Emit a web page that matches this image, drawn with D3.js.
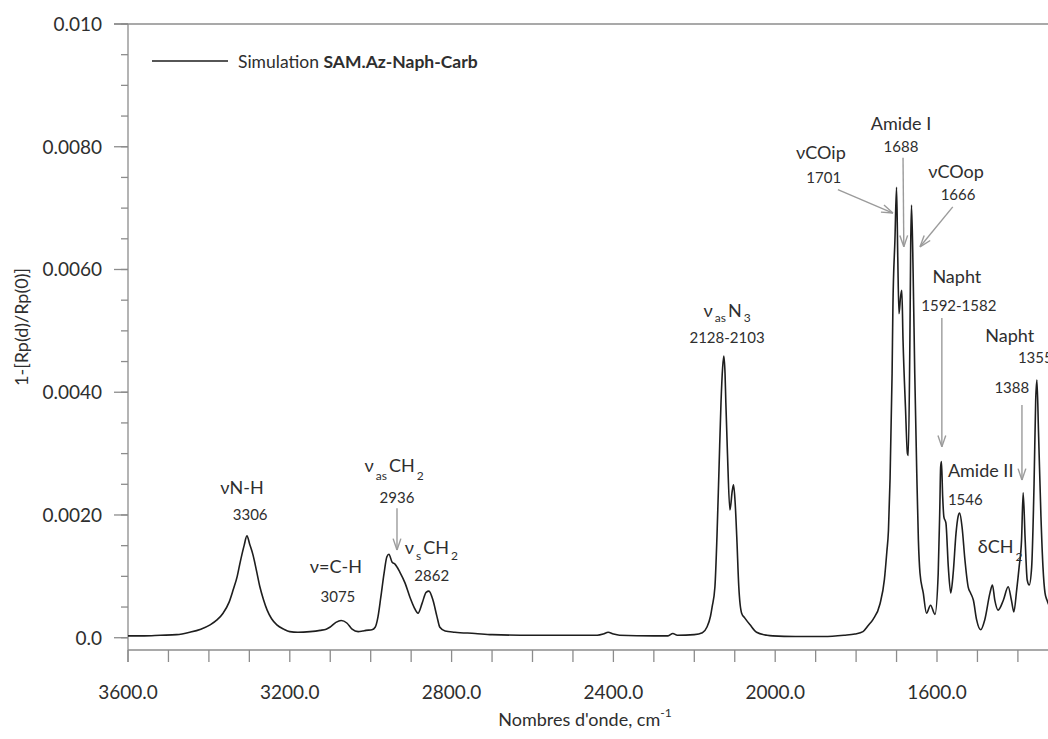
<!DOCTYPE html>
<html><head><meta charset="utf-8">
<script src="https://cdn.jsdelivr.net/npm/d3@7"></script>
<style>body{margin:0;background:#fff} svg{display:block}</style>
</head><body><svg id="c" width="1048" height="739"></svg>
<script>
// ---- data ----
const wavenumbers = [3600,3560,3520,3480,3447,3420,3397,3380,3365,3350,3340,3330,3323,3313,3306,3299,3291,3282,3274,3265,3256,3245,3232,3215,3200,3180,3150,3125,3110,3101,3086,3073,3059,3046,3031,3020,3012,2997,2989,2982,2975,2967,2960,2955,2947,2940,2928,2915,2903,2893,2883,2873,2863,2856,2846,2836,2829,2816,2792,2742,2700,2600,2500,2440,2425,2413,2400,2385,2300,2265,2253,2242,2200,2180,2169,2160,2156,2149,2144,2139,2134,2130,2127,2124,2122,2118,2112,2106,2103,2099,2095,2090,2083,2075,2062,2046,2020,2006,1950,1880,1830,1803,1783,1770,1758,1741,1730,1724,1720,1716,1711,1709,1704,1700,1697,1694,1690,1687,1684,1678,1673,1671,1667,1665,1663,1659,1655,1650,1646,1642,1634,1626,1616,1605,1597,1593,1591,1589,1586,1583,1578,1572,1566,1560,1553,1548,1544,1538,1531,1523,1517,1510,1502,1492,1482,1469,1463,1457,1449,1436,1424,1416,1410,1403,1397,1391,1387,1382,1377,1372,1366,1360,1356,1353,1349,1343,1338,1333,1328,1320,1300];
const signal = [0.00003,0.00003,0.00004,0.00005,0.00009,0.00014,0.00021,0.00029,0.00040,0.00058,0.00078,0.00100,0.00122,0.00150,0.00166,0.00152,0.00135,0.00108,0.00083,0.00062,0.00045,0.00031,0.00021,0.00014,0.00010,0.00009,0.00010,0.00012,0.00014,0.00017,0.00025,0.00028,0.00024,0.00014,0.00010,0.00011,0.00012,0.00013,0.00017,0.00034,0.00066,0.00105,0.00132,0.00136,0.00123,0.00120,0.00107,0.00089,0.00066,0.00050,0.00040,0.00056,0.00074,0.00076,0.00061,0.00034,0.00017,0.00011,0.00009,0.00007,0.00005,0.00004,0.00004,0.00004,0.00006,0.00009,0.00006,0.00004,0.00003,0.00003,0.00007,0.00004,0.00005,0.00008,0.00017,0.00035,0.00050,0.00083,0.00164,0.00273,0.00383,0.00440,0.00459,0.00430,0.00383,0.00300,0.00208,0.00240,0.00249,0.00220,0.00164,0.00083,0.00040,0.00032,0.00021,0.00009,0.00004,0.00003,0.00002,0.00002,0.00004,0.00006,0.00010,0.00020,0.00030,0.00055,0.00095,0.00140,0.00175,0.00260,0.00431,0.00539,0.00648,0.00734,0.00620,0.00528,0.00556,0.00566,0.00485,0.00376,0.00300,0.00297,0.00485,0.00640,0.00705,0.00594,0.00431,0.00268,0.00159,0.00105,0.00073,0.00040,0.00053,0.00038,0.00105,0.00213,0.00278,0.00287,0.00230,0.00197,0.00187,0.00115,0.00073,0.00105,0.00170,0.00197,0.00203,0.00180,0.00127,0.00083,0.00073,0.00061,0.00029,0.00013,0.00029,0.00073,0.00086,0.00061,0.00045,0.00061,0.00083,0.00061,0.00042,0.00078,0.00115,0.00159,0.00236,0.00159,0.00094,0.00086,0.00115,0.00252,0.00387,0.00420,0.00334,0.00197,0.00115,0.00073,0.00061,0.00050,0.00045];

const xMinorTicks = d3.range(3600, 1000, -100);
const xLabelTicks = [3600, 3200, 2800, 2400, 2000, 1600];
const yMajorTicks = [0, 0.002, 0.004, 0.006, 0.008, 0.010];
const yTickLabels = ["0.0", "0.0020", "0.0040", "0.0060", "0.0080", "0.010"];
const yMinorTicks = d3.range(0, 0.01001, 0.0005);
const seriesName = ["Simulation ", "SAM.Az-Naph-Carb"];

// annotation texts: parts with optional subscript flag
const annotations = [
  {parts:[["νN-H"]], w:3318, v:0.00234, cls:"lab"},
  {parts:[["3306"]], w:3298, v:0.00192, cls:"num"},
  {parts:[["ν=C-H"]], w:3086, v:0.00106, cls:"lab"},
  {parts:[["3075"]], w:3081, v:0.00058, cls:"num"},
  {parts:[["ν"],["as",1],["CH"],["2",1]], w:2942, v:0.00270, cls:"lab", sd:8},
  {parts:[["2936"]], w:2935, v:0.00220, cls:"num"},
  {parts:[["ν"],["s",1],["CH"],["2",1]], w:2850, v:0.00137, cls:"lab", sd:6},
  {parts:[["2862"]], w:2849, v:0.00093, cls:"num"},
  {parts:[["ν"],["as",1],["N"],["3",1]], w:2119, v:0.00522, cls:"lab", sd:5},
  {parts:[["2128-2103"]], w:2119, v:0.00480, cls:"num"},
  {parts:[["νCOip"]], w:1887, v:0.00780, cls:"lab"},
  {parts:[["1701"]], w:1880, v:0.00741, cls:"num"},
  {parts:[["Amide I"]], w:1689, v:0.00827, cls:"lab"},
  {parts:[["1688"]], w:1689, v:0.00792, cls:"num"},
  {parts:[["νCOop"]], w:1553, v:0.00749, cls:"lab"},
  {parts:[["1666"]], w:1548, v:0.00713, cls:"num"},
  {parts:[["Napht"]], w:1551, v:0.00578, cls:"lab"},
  {parts:[["1592-1582"]], w:1546, v:0.00532, cls:"num"},
  {parts:[["Napht"]], w:1420, v:0.00482, cls:"lab"},
  {parts:[["1355"]], w:1400, v:0.00448, cls:"num", anchor:"start"},
  {parts:[["1388"]], w:1415, v:0.00399, cls:"num"},
  {parts:[["Amide II"]], w:1573, v:0.00262, cls:"lab", anchor:"start"},
  {parts:[["1546"]], w:1573, v:0.00216, cls:"num", anchor:"start"},
  {parts:[["δCH"],["2",1]], w:1499, v:0.00138, cls:"lab", anchor:"start", sd:8}
];
const arrows = [
  {w1:2935, v1:0.00211, w2:2935, v2:0.00143},
  {w1:1845, v1:0.00730, w2:1709, v2:0.00692},
  {w1:1684, v1:0.00782, w2:1682, v2:0.00637},
  {w1:1561, v1:0.00702, w2:1642, v2:0.00637},
  {w1:1588, v1:0.00521, w2:1588, v2:0.00311},
  {w1:1390, v1:0.00379, w2:1390, v2:0.00257}
];

// ---- chart ----
const svg = d3.select("#c");
svg.append("rect").attr("width",1048).attr("height",739).attr("fill","#fff");
const FONT = "Lato, 'Open Sans', 'DejaVu Sans', sans-serif";
const x = d3.scaleLinear().domain([3600, 1000]).range([128, 1179.7]);
const y = d3.scaleLinear().domain([-0.0002, 0.010]).range([650, 24]);
const axisColor = "#8c8c8c";
const textColor = "#2e2e2e";

// top frame line
svg.append("line").attr("x1", x(3600)-14).attr("x2", 1048)
  .attr("y1", y(0.010)).attr("y2", y(0.010)).attr("stroke", axisColor).attr("stroke-width", 1.3);

// y axis
const gy = svg.append("g");
gy.append("line").attr("x1", x(3600)).attr("x2", x(3600)).attr("y1", y(0.010)).attr("y2", y(-0.0002)+12)
  .attr("stroke", axisColor).attr("stroke-width", 1.3);
gy.selectAll(".ymin").data(yMinorTicks).join("line")
  .attr("x1", x(3600)-7).attr("x2", x(3600)).attr("y1", d=>y(d)).attr("y2", d=>y(d))
  .attr("stroke", axisColor).attr("stroke-width", 1.3);
gy.selectAll(".ymaj").data(yMajorTicks).join("line")
  .attr("x1", x(3600)-14).attr("x2", x(3600)).attr("y1", d=>y(d)).attr("y2", d=>y(d))
  .attr("stroke", axisColor).attr("stroke-width", 1.3);
gy.selectAll(".ylab").data(yMajorTicks).join("text")
  .attr("x", x(3600)-26).attr("y", d=>y(d)+7).attr("text-anchor","end")
  .attr("font-family", FONT).attr("font-size", 19).attr("fill", textColor)
  .text((d,i)=>yTickLabels[i]);

// x axis
const gx = svg.append("g");
gx.append("line").attr("x1", x(3600)).attr("x2", 1048).attr("y1", y(-0.0002)).attr("y2", y(-0.0002))
  .attr("stroke", axisColor).attr("stroke-width", 1.3);
gx.selectAll(".xt").data(xMinorTicks).join("line")
  .attr("x1", d=>x(d)).attr("x2", d=>x(d)).attr("y1", y(-0.0002)).attr("y2", y(-0.0002)+12)
  .attr("stroke", axisColor).attr("stroke-width", 1.3);
gx.selectAll(".xl").data(xLabelTicks).join("text")
  .attr("x", d=>x(d)).attr("y", 699).attr("text-anchor","middle")
  .attr("font-family", FONT).attr("font-size", 19).attr("fill", textColor)
  .text(d=>d.toFixed(1));

// axis titles
const xt = svg.append("text").attr("x", 585).attr("y", 726).attr("text-anchor","middle")
  .attr("font-family", FONT).attr("font-size", 18).attr("fill", textColor);
xt.append("tspan").text("Nombres d'onde, cm");
xt.append("tspan").attr("dy", -9).attr("font-size", 12).text("-1");
svg.append("text").attr("transform","translate(28,327) rotate(-90)").attr("text-anchor","middle")
  .attr("font-family", FONT).attr("font-size", 18).attr("fill", textColor)
  .text("1-[Rp(d)/Rp(0)]");

// spectrum line
const pts = wavenumbers.map((w,i)=>[w, signal[i]]);
svg.append("path").datum(pts)
  .attr("d", d3.line().x(d=>x(d[0])).y(d=>y(d[1])).curve(d3.curveMonotoneX))
  .attr("fill","none").attr("stroke","#1e1e1e").attr("stroke-width",1.6).attr("stroke-linejoin","round");

// legend
svg.append("line").attr("x1",152).attr("x2",228).attr("y1",61).attr("y2",61)
  .attr("stroke","#1e1e1e").attr("stroke-width",1.5);
const lt = svg.append("text").attr("x",238).attr("y",68)
  .attr("font-family", FONT).attr("font-size", 17.5).attr("fill", textColor);
lt.append("tspan").text(seriesName[0]);
lt.append("tspan").attr("font-weight","bold").text(seriesName[1]);

// arrows
const ga = svg.append("g").attr("stroke","#9b9b9b").attr("stroke-width",1.4).attr("fill","none");
arrows.forEach(a=>{
  const x1=x(a.w1), y1=y(a.v1), x2=x(a.w2), y2=y(a.v2);
  ga.append("line").attr("x1",x1).attr("y1",y1).attr("x2",x2).attr("y2",y2);
  const ang = Math.atan2(y2-y1, x2-x1), L=12, sp=0.33;
  [ -sp, sp ].forEach(s=>{
    ga.append("line").attr("x1",x2).attr("y1",y2)
      .attr("x2", x2 - L*Math.cos(ang+s)).attr("y2", y2 - L*Math.sin(ang+s));
  });
});

// annotation labels
annotations.forEach(a=>{
  const big = a.cls==="lab" ? 18 : 15;
  const sd = a.sd || 8;
  const t = svg.append("text").attr("x", x(a.w)).attr("y", y(a.v))
    .attr("text-anchor", a.anchor||"middle").attr("font-family", FONT)
    .attr("font-size", big).attr("fill", textColor);
  let sub = false;
  a.parts.forEach(p=>{
    const isSub = !!p[1];
    const ts = t.append("tspan").text(p[0]);
    if (isSub && !sub) ts.attr("dy", sd).attr("font-size", 12).attr("dx", 2);
    else if (!isSub && sub) ts.attr("dy", -sd).attr("dx", 2);
    else if (isSub) ts.attr("font-size", 12);
    sub = isSub;
  });
});
</script></body></html>
